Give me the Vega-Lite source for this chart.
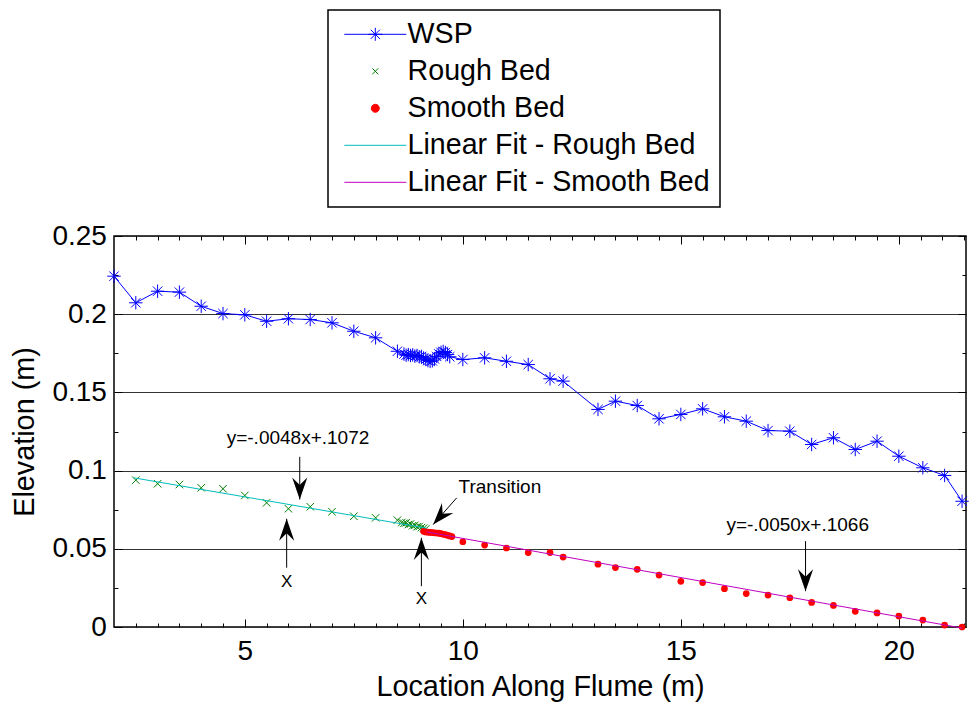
{
  "$schema": "https://vega.github.io/schema/vega-lite/v6.json",
  "width": 852,
  "height": 391,
  "autosize": "none",
  "padding": {"left": 114, "top": 236, "right": 4, "bottom": 75},
  "background": "white",
  "config": {
    "view": {"stroke": "black", "strokeWidth": 1.5},
    "axis": {
      "labelFont": "Liberation Sans", "titleFont": "Liberation Sans",
      "labelFontSize": 28, "titleFontSize": 28.8, "titleFontWeight": "normal",
      "labelColor": "black", "titleColor": "black", "tickColor": "black",
      "domain": false, "grid": false, "tickWidth": 1
    },
    "text": {"font": "Liberation Sans", "color": "black"}
  },
  "resolve": {"axis": {"x": "independent", "y": "independent"}},
  "datasets": {
    "wsp": [
      {"series": "WSP", "x": 2.0, "y": 0.2243}, {"series": "WSP", "x": 2.5, "y": 0.2073},
      {"series": "WSP", "x": 3.0, "y": 0.2147}, {"series": "WSP", "x": 3.5, "y": 0.2141},
      {"series": "WSP", "x": 4.0, "y": 0.2051}, {"series": "WSP", "x": 4.5, "y": 0.2004},
      {"series": "WSP", "x": 5.0, "y": 0.1996}, {"series": "WSP", "x": 5.5, "y": 0.1955},
      {"series": "WSP", "x": 6.0, "y": 0.1971}, {"series": "WSP", "x": 6.5, "y": 0.1966},
      {"series": "WSP", "x": 7.0, "y": 0.1945}, {"series": "WSP", "x": 7.5, "y": 0.1891},
      {"series": "WSP", "x": 8.0, "y": 0.1849}, {"series": "WSP", "x": 8.5, "y": 0.1763},
      {"series": "WSP", "x": 8.65, "y": 0.1745}, {"series": "WSP", "x": 8.7, "y": 0.1738},
      {"series": "WSP", "x": 8.75, "y": 0.1742}, {"series": "WSP", "x": 8.8, "y": 0.1736},
      {"series": "WSP", "x": 8.85, "y": 0.174}, {"series": "WSP", "x": 8.9, "y": 0.1732},
      {"series": "WSP", "x": 8.95, "y": 0.1736}, {"series": "WSP", "x": 9.0, "y": 0.1728},
      {"series": "WSP", "x": 9.05, "y": 0.173}, {"series": "WSP", "x": 9.1, "y": 0.172},
      {"series": "WSP", "x": 9.15, "y": 0.1712}, {"series": "WSP", "x": 9.2, "y": 0.1703},
      {"series": "WSP", "x": 9.25, "y": 0.1698}, {"series": "WSP", "x": 9.3, "y": 0.1702},
      {"series": "WSP", "x": 9.35, "y": 0.1714}, {"series": "WSP", "x": 9.4, "y": 0.173},
      {"series": "WSP", "x": 9.45, "y": 0.1746}, {"series": "WSP", "x": 9.5, "y": 0.1756},
      {"series": "WSP", "x": 9.55, "y": 0.1762}, {"series": "WSP", "x": 9.6, "y": 0.1755},
      {"series": "WSP", "x": 9.65, "y": 0.1742}, {"series": "WSP", "x": 9.7, "y": 0.1728},
      {"series": "WSP", "x": 10.0, "y": 0.171}, {"series": "WSP", "x": 10.5, "y": 0.1721},
      {"series": "WSP", "x": 11.0, "y": 0.1699}, {"series": "WSP", "x": 11.5, "y": 0.1678},
      {"series": "WSP", "x": 12.0, "y": 0.1587}, {"series": "WSP", "x": 12.3, "y": 0.1572},
      {"series": "WSP", "x": 13.1, "y": 0.1391}, {"series": "WSP", "x": 13.5, "y": 0.1444},
      {"series": "WSP", "x": 14.0, "y": 0.1416}, {"series": "WSP", "x": 14.5, "y": 0.1331},
      {"series": "WSP", "x": 15.0, "y": 0.1359}, {"series": "WSP", "x": 15.5, "y": 0.1395},
      {"series": "WSP", "x": 16.0, "y": 0.1344}, {"series": "WSP", "x": 16.5, "y": 0.1316},
      {"series": "WSP", "x": 17.0, "y": 0.1256}, {"series": "WSP", "x": 17.5, "y": 0.1252},
      {"series": "WSP", "x": 18.0, "y": 0.1167}, {"series": "WSP", "x": 18.5, "y": 0.121},
      {"series": "WSP", "x": 19.0, "y": 0.1135}, {"series": "WSP", "x": 19.5, "y": 0.1188},
      {"series": "WSP", "x": 20.0, "y": 0.1092}, {"series": "WSP", "x": 20.55, "y": 0.1018},
      {"series": "WSP", "x": 21.05, "y": 0.0969}, {"series": "WSP", "x": 21.45, "y": 0.0804}
    ],
    "rough": [
      {"x": 2.5, "y": 0.0939}, {"x": 3.0, "y": 0.0916}, {"x": 3.5, "y": 0.0911},
      {"x": 4.0, "y": 0.089}, {"x": 4.5, "y": 0.0884}, {"x": 5.0, "y": 0.0841},
      {"x": 5.5, "y": 0.0794}, {"x": 6.0, "y": 0.0756}, {"x": 6.5, "y": 0.0769},
      {"x": 7.0, "y": 0.0737}, {"x": 7.5, "y": 0.0708}, {"x": 8.0, "y": 0.0698},
      {"x": 8.5, "y": 0.0683}, {"x": 8.6, "y": 0.0668}, {"x": 8.65, "y": 0.0663},
      {"x": 8.7, "y": 0.0666}, {"x": 8.75, "y": 0.0655}, {"x": 8.8, "y": 0.0658},
      {"x": 8.85, "y": 0.0648}, {"x": 8.9, "y": 0.065}, {"x": 8.95, "y": 0.0641},
      {"x": 9.0, "y": 0.0643}, {"x": 9.05, "y": 0.0635}, {"x": 9.1, "y": 0.0632},
      {"x": 9.15, "y": 0.0627}
    ],
    "smooth": [
      {"x": 9.1, "y": 0.0612}, {"x": 9.15, "y": 0.0608}, {"x": 9.2, "y": 0.0606},
      {"x": 9.25, "y": 0.0605}, {"x": 9.3, "y": 0.0604}, {"x": 9.35, "y": 0.0602},
      {"x": 9.4, "y": 0.0601}, {"x": 9.45, "y": 0.06}, {"x": 9.5, "y": 0.0597},
      {"x": 9.55, "y": 0.0593}, {"x": 9.6, "y": 0.059}, {"x": 9.65, "y": 0.0586},
      {"x": 9.7, "y": 0.0582}, {"x": 9.75, "y": 0.0578},
      {"x": 10.0, "y": 0.0545}, {"x": 10.5, "y": 0.0524}, {"x": 11.0, "y": 0.0505},
      {"x": 11.5, "y": 0.0476}, {"x": 12.0, "y": 0.0476}, {"x": 12.3, "y": 0.0447},
      {"x": 13.1, "y": 0.0402}, {"x": 13.5, "y": 0.038}, {"x": 14.0, "y": 0.0369},
      {"x": 14.5, "y": 0.0332}, {"x": 15.0, "y": 0.0292}, {"x": 15.5, "y": 0.0284},
      {"x": 16.0, "y": 0.0245}, {"x": 16.5, "y": 0.0214}, {"x": 17.0, "y": 0.0204},
      {"x": 17.5, "y": 0.0187}, {"x": 18.0, "y": 0.0157}, {"x": 18.5, "y": 0.0138},
      {"x": 19.0, "y": 0.01}, {"x": 19.5, "y": 0.009}, {"x": 20.0, "y": 0.007},
      {"x": 20.55, "y": 0.0044}, {"x": 21.05, "y": 0.0012}, {"x": 21.45, "y": 0.0}
    ],
    "roughfit": [{"x": 2.45, "y": 0.0954}, {"x": 9.17, "y": 0.0632}],
    "smoothfit": [{"x": 9.17, "y": 0.0608}, {"x": 21.45, "y": -0.0007}],
    "notes": [
      {"text": "y=-.0048x+.1072", "x": 6.22, "y": 0.121},
      {"text": "Transition", "x": 10.85, "y": 0.0898},
      {"text": "y=-.0050x+.1066", "x": 17.68, "y": 0.0649},
      {"text": "X", "x": 5.96, "y": 0.0289},
      {"text": "X", "x": 9.05, "y": 0.0176}
    ],
    "arrows": [
      {"x": 6.26, "y": 0.1088, "x2": 6.26, "y2": 0.0815, "pointing": "down"},
      {"x": 5.96, "y": 0.0379, "x2": 5.96, "y2": 0.0692, "pointing": "up"},
      {"x": 9.05, "y": 0.0261, "x2": 9.05, "y2": 0.057, "pointing": "up"},
      {"x": 9.86, "y": 0.0826, "x2": 9.32, "y2": 0.0655, "pointing": "down-left"},
      {"x": 17.86, "y": 0.0549, "x2": 17.86, "y2": 0.0229, "pointing": "down"}
    ]
  },
  "layer": [
    {
      "data": {"name": "wsp"},
      "mark": {"type": "line", "strokeWidth": 1},
      "encoding": {
        "x": {"field": "x", "type": "quantitative",
          "scale": {"domain": [2, 21.54], "nice": false, "zero": false},
          "axis": {"orient": "bottom", "values": [5, 10, 15, 20], "labelExpr": "'' + datum.value",
            "tickSize": -8, "labelPadding": 18.5, "title": "Location Along Flume (m)", "titlePadding": 7}},
        "y": {"field": "y", "type": "quantitative",
          "scale": {"domain": [0, 0.25], "nice": false, "zero": false},
          "axis": {"orient": "left", "values": [0, 0.05, 0.1, 0.15, 0.2, 0.25], "labelExpr": "'' + datum.value",
            "tickSize": -8, "labelPadding": 15.6, "grid": true, "gridColor": "#333333", "gridWidth": 1,
            "title": "Elevation (m)", "titlePadding": 12}},
        "color": {"field": "series", "type": "nominal",
          "scale": {"domain": ["WSP", "Rough Bed", "Smooth Bed", "Linear Fit - Rough Bed", "Linear Fit - Smooth Bed"],
            "range": ["#0000ff", "#008000", "#ff0000", "#00bcbc", "#c000c0"]},
          "legend": {
            "title": null, "orient": "none", "legendX": 214, "legendY": -226, "direction": "vertical",
            "labelFont": "Liberation Sans", "labelFontSize": 28.6, "labelColor": "black", "labelLimit": 0,
            "labelOffset": 41, "symbolSize": 400, "symbolStrokeWidth": 1,
            "strokeColor": "black", "fillColor": "white", "padding": 10, "rowPadding": 8,
            "encode": {
              "legend": {"update": {"strokeWidth": {"value": 1.5}}},
              "symbols": {"update": {
                "shape": {"signal": "datum.value === 'WSP' ? 'M-0.8,0H5.4M1.6,0H3M2.3,-0.65V0.65M1.84,-0.46L2.76,0.46M1.84,0.46L2.76,-0.46' : datum.value === 'Rough Bed' ? 'M2,-0.3L2.6,0.3M2,0.3L2.6,-0.3' : datum.value === 'Smooth Bed' ? 'M1.9,0A0.4,0.4,0,1,1,2.7,0A0.4,0.4,0,1,1,1.9,0Z' : 'M-0.8,0H5.4'"},
                "fill": {"scale": "color", "field": "value"},
                "stroke": {"scale": "color", "field": "value"},
                "strokeWidth": {"value": 1},
                "opacity": {"value": 1},
                "fillOpacity": {"value": 1},
                "strokeOpacity": {"value": 1}
              }}
            }
          }
        }
      }
    },
    {
      "data": {"name": "wsp"},
      "mark": {"type": "point", "shape": "M-1,0H1M0,-1V1M-0.7,-0.7L0.7,0.7M-0.7,0.7L0.7,-0.7",
        "size": 180, "filled": false, "stroke": "#0000ff", "strokeWidth": 1, "opacity": 1},
      "encoding": {
        "x": {"field": "x", "type": "quantitative",
          "axis": {"orient": "bottom", "labels": false, "tickSize": -4, "title": null,
            "values": [2.5, 3, 3.5, 4, 4.5, 5.5, 6, 6.5, 7, 7.5, 8, 8.5, 9, 9.5, 10.5, 11, 11.5, 12, 12.5, 13, 13.5, 14, 14.5, 15.5, 16, 16.5, 17, 17.5, 18, 18.5, 19, 19.5, 20.5, 21, 21.5]}},
        "y": {"field": "y", "type": "quantitative",
          "axis": {"orient": "left", "labels": false, "tickSize": -4, "title": null,
            "values": [0.025, 0.075, 0.125, 0.175, 0.225]}}
      }
    },
    {
      "data": {"name": "rough"},
      "mark": {"type": "point", "shape": "M-1,-1L1,1M-1,1L1,-1", "size": 56, "filled": false,
        "stroke": "#008000", "strokeWidth": 1, "opacity": 1},
      "encoding": {
        "x": {"field": "x", "type": "quantitative",
          "axis": {"orient": "top", "labels": false, "tickSize": -8, "title": null, "values": [5, 10, 15, 20]}},
        "y": {"field": "y", "type": "quantitative",
          "axis": {"orient": "right", "labels": false, "tickSize": -8, "title": null,
            "values": [0, 0.05, 0.1, 0.15, 0.2, 0.25]}}
      }
    },
    {
      "data": {"name": "smooth"},
      "mark": {"type": "circle", "size": 45, "color": "#ff0000", "opacity": 1},
      "encoding": {
        "x": {"field": "x", "type": "quantitative",
          "axis": {"orient": "top", "labels": false, "tickSize": -4, "title": null,
            "values": [2.5, 3, 3.5, 4, 4.5, 5.5, 6, 6.5, 7, 7.5, 8, 8.5, 9, 9.5, 10.5, 11, 11.5, 12, 12.5, 13, 13.5, 14, 14.5, 15.5, 16, 16.5, 17, 17.5, 18, 18.5, 19, 19.5, 20.5, 21, 21.5]}},
        "y": {"field": "y", "type": "quantitative",
          "axis": {"orient": "right", "labels": false, "tickSize": -4, "title": null,
            "values": [0.025, 0.075, 0.125, 0.175, 0.225]}}
      }
    },
    {
      "data": {"name": "roughfit"},
      "mark": {"type": "line", "color": "#00bcbc", "strokeWidth": 1},
      "encoding": {
        "x": {"field": "x", "type": "quantitative", "axis": null},
        "y": {"field": "y", "type": "quantitative", "axis": null}
      }
    },
    {
      "data": {"name": "smoothfit"},
      "mark": {"type": "line", "color": "#c000c0", "strokeWidth": 1, "clip": false},
      "encoding": {
        "x": {"field": "x", "type": "quantitative", "axis": null},
        "y": {"field": "y", "type": "quantitative", "axis": null}
      }
    },
    {
      "data": {"name": "notes"},
      "transform": [{"filter": "datum.text !== 'X'"}],
      "mark": {"type": "text", "fontSize": 19, "align": "center", "baseline": "middle", "color": "black"},
      "encoding": {
        "x": {"field": "x", "type": "quantitative", "axis": null},
        "y": {"field": "y", "type": "quantitative", "axis": null},
        "text": {"field": "text"}
      }
    },
    {
      "data": {"name": "notes"},
      "transform": [{"filter": "datum.text === 'X'"}],
      "mark": {"type": "text", "fontSize": 17, "align": "center", "baseline": "middle", "color": "black"},
      "encoding": {
        "x": {"field": "x", "type": "quantitative", "axis": null},
        "y": {"field": "y", "type": "quantitative", "axis": null},
        "text": {"field": "text"}
      }
    },
    {
      "data": {"name": "arrows"},
      "mark": {"type": "rule", "color": "black", "strokeWidth": 1},
      "encoding": {
        "x": {"field": "x", "type": "quantitative", "axis": null},
        "y": {"field": "y", "type": "quantitative", "axis": null},
        "x2": {"field": "x2"},
        "y2": {"field": "y2"}
      }
    },
    {
      "data": {"name": "arrows"},
      "transform": [{"filter": "datum.pointing === 'down'"}],
      "mark": {"type": "point", "shape": "M0,0L0.55,1.6L0,1.05L-0.55,1.6Z", "angle": 180, "size": 760,
        "filled": true, "color": "black", "opacity": 1, "strokeWidth": 0},
      "encoding": {
        "x": {"field": "x2", "type": "quantitative", "axis": null},
        "y": {"field": "y2", "type": "quantitative", "axis": null}
      }
    },
    {
      "data": {"name": "arrows"},
      "transform": [{"filter": "datum.pointing === 'up'"}],
      "mark": {"type": "point", "shape": "M0,0L0.55,1.6L0,1.05L-0.55,1.6Z", "angle": 0, "size": 760,
        "filled": true, "color": "black", "opacity": 1, "strokeWidth": 0},
      "encoding": {
        "x": {"field": "x2", "type": "quantitative", "axis": null},
        "y": {"field": "y2", "type": "quantitative", "axis": null}
      }
    },
    {
      "data": {"name": "arrows"},
      "transform": [{"filter": "datum.pointing === 'down-left'"}],
      "mark": {"type": "point", "shape": "M0,0L0.55,1.6L0,1.05L-0.55,1.6Z", "angle": 221, "size": 760,
        "filled": true, "color": "black", "opacity": 1, "strokeWidth": 0},
      "encoding": {
        "x": {"field": "x2", "type": "quantitative", "axis": null},
        "y": {"field": "y2", "type": "quantitative", "axis": null}
      }
    }
  ]
}
